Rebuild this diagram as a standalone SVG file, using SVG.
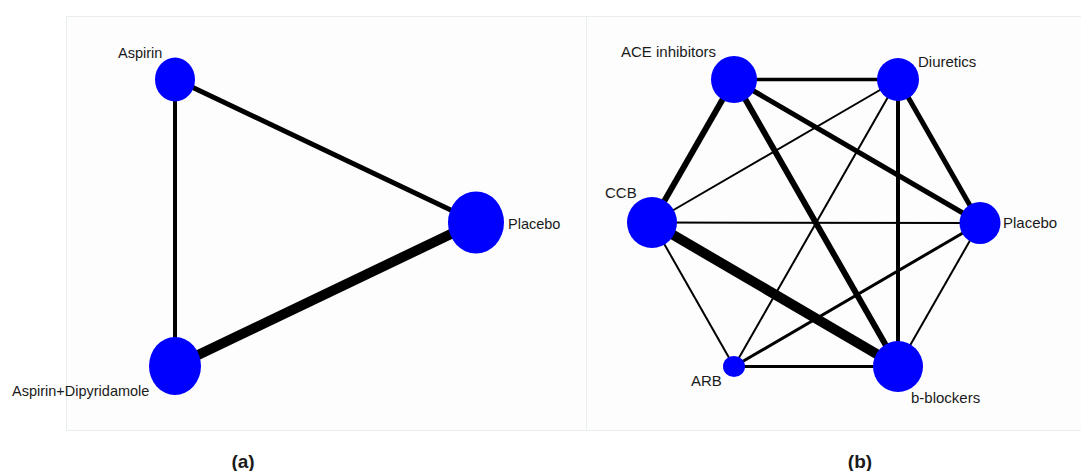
<svg xmlns="http://www.w3.org/2000/svg" width="1081" height="471" viewBox="0 0 1081 471">
<style>
.panel{fill:#fdfdfd;stroke:#e9eeee;stroke-width:1}
.node{fill:#0000ff}
.e{stroke:#000;fill:none;stroke-linecap:butt}
.lbl{font-family:"Liberation Sans",Arial,sans-serif;font-size:15px;fill:#1a1a1a}
.la{font-size:14.5px}
.cap{font-family:"Liberation Sans",Arial,sans-serif;font-size:19px;font-weight:bold;fill:#1a1a1a;text-anchor:middle}
</style>
<rect x="0" y="0" width="1081" height="471" fill="#ffffff"/>
<rect class="panel" x="66.5" y="16.5" width="520" height="414"/>
<rect class="panel" x="586.5" y="16.5" width="500" height="414"/>
<g id="connectors">
  <line class="e" x1="175" y1="79" x2="476" y2="222" stroke-width="5"/>
  <line class="e" x1="175" y1="79" x2="175" y2="366" stroke-width="4"/>
  <line class="e" x1="175" y1="366" x2="476" y2="222" stroke-width="10"/>
  <line class="e" x1="734" y1="79.5" x2="898" y2="79.5" stroke-width="3.5"/>
  <line class="e" x1="734" y1="79.5" x2="652" y2="222.5" stroke-width="6"/>
  <line class="e" x1="734" y1="79.5" x2="980" y2="223" stroke-width="5"/>
  <line class="e" x1="734" y1="79.5" x2="898" y2="366.5" stroke-width="6"/>
  <line class="e" x1="898" y1="79.5" x2="652" y2="222.5" stroke-width="2"/>
  <line class="e" x1="898" y1="79.5" x2="734" y2="366.5" stroke-width="2"/>
  <line class="e" x1="898" y1="79.5" x2="898" y2="366.5" stroke-width="4"/>
  <line class="e" x1="898" y1="79.5" x2="980" y2="223" stroke-width="5"/>
  <line class="e" x1="652" y1="222.5" x2="980" y2="223" stroke-width="2"/>
  <line class="e" x1="652" y1="222.5" x2="898" y2="366.5" stroke-width="10"/>
  <line class="e" x1="652" y1="222.5" x2="734" y2="366.5" stroke-width="2"/>
  <line class="e" x1="980" y1="223" x2="734" y2="366.5" stroke-width="3"/>
  <line class="e" x1="980" y1="223" x2="898" y2="366.5" stroke-width="2"/>
  <line class="e" x1="734" y1="366.5" x2="898" y2="366.5" stroke-width="3"/>
</g>
<g id="n-aspirin"><ellipse class="node" cx="175" cy="79.5" rx="20" ry="22"/><text class="lbl la" x="118" y="58">Aspirin</text></g>
<g id="n-aspdip"><ellipse class="node" cx="175" cy="366" rx="26" ry="29"/><text class="lbl la" x="12" y="396">Aspirin+Dipyridamole</text></g>
<g id="n-placebo-a"><ellipse class="node" cx="476" cy="222.5" rx="28" ry="31"/><text class="lbl la" x="508" y="229">Placebo</text></g>
<g id="n-ace"><ellipse class="node" cx="734" cy="79.5" rx="23" ry="23.5"/><text class="lbl" x="621" y="57">ACE inhibitors</text></g>
<g id="n-diuretics"><ellipse class="node" cx="898" cy="79.5" rx="21" ry="21.5"/><text class="lbl" x="918" y="67">Diuretics</text></g>
<g id="n-ccb"><ellipse class="node" cx="652" cy="222.5" rx="25" ry="25.5"/><text class="lbl" x="605" y="198">CCB</text></g>
<g id="n-placebo-b"><ellipse class="node" cx="980" cy="223" rx="20.5" ry="21"/><text class="lbl" x="1003" y="228">Placebo</text></g>
<g id="n-arb"><ellipse class="node" cx="734" cy="366.5" rx="11" ry="10.5"/><text class="lbl" x="691" y="386">ARB</text></g>
<g id="n-bblockers"><ellipse class="node" cx="898" cy="366.5" rx="25" ry="25.5"/><text class="lbl" x="911" y="403">b-blockers</text></g>
<g id="captions">
<text class="cap" x="243" y="468">(a)</text>
<text class="cap" x="860" y="468">(b)</text>
</g>
</svg>
